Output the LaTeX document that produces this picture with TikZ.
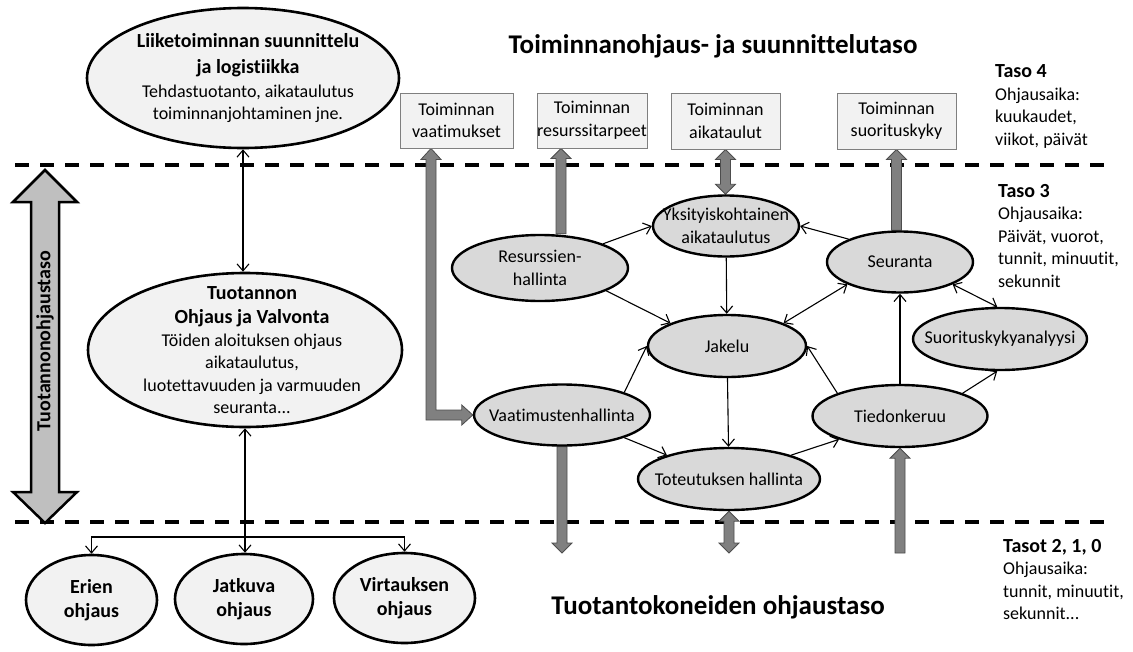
\documentclass[tikz,border=0pt]{standalone}
\usepackage{fontspec}
\setmainfont{Carlito}[Ligatures=NoCommon]
\usetikzlibrary{calc,shapes.geometric,arrows.meta,backgrounds}

\definecolor{palegray}{HTML}{F2F2F2}
\definecolor{netgray}{HTML}{D9D9D9}
\definecolor{arrowgray}{HTML}{808080}
\definecolor{arrowedge}{HTML}{4D4D4D}
\definecolor{bandgray}{HTML}{BFBFBF}
\definecolor{boxedge}{HTML}{7F7F7F}

\newcommand\txtn{\fontsize{18}{22.5}\selectfont}
\newcommand\txtb{\fontsize{20}{24}\selectfont\bfseries}
\newcommand\txtt{\fontsize{27}{32}\selectfont\bfseries}

% thick grey block arrow from #1 to #2, head at #2
\newcommand\barrowone[2]{%
  \path ($(#2)!10pt!(#1)$) coordinate (bh);
  \draw[blockarrow] ($(#1)!5pt!90:(#2)$) -- ($(bh)!5pt!90:(#2)$) -- ($(bh)!10pt!90:(#2)$)
    -- (#2) -- ($(bh)!10pt!-90:(#2)$) -- ($(bh)!5pt!-90:(#2)$) -- ($(#1)!5pt!-90:(#2)$) -- cycle;}
% thick grey block arrow with heads at both ends
\newcommand\barrowtwo[2]{%
  \path ($(#2)!10pt!(#1)$) coordinate (bh) ($(#1)!10pt!(#2)$) coordinate (bt);
  \draw[blockarrow] (#1) -- ($(bt)!10pt!90:(#2)$) -- ($(bt)!5pt!90:(#2)$) -- ($(bh)!5pt!90:(#2)$)
    -- ($(bh)!10pt!90:(#2)$) -- (#2) -- ($(bh)!10pt!-90:(#2)$) -- ($(bh)!5pt!-90:(#2)$)
    -- ($(bt)!5pt!-90:(#2)$) -- ($(bt)!10pt!-90:(#2)$) -- cycle;}

\begin{document}
\begin{tikzpicture}[x=1pt,y=-1pt,
  plan/.style={ellipse,draw,line width=2.6pt,fill=palegray,inner sep=0pt},
  net/.style={ellipse,draw,line width=2.4pt,fill=netgray,inner sep=0pt},
  nettext/.style={font=\txtn,align=center,inner sep=0pt},
  infobox/.style={draw=boxedge,line width=0.9pt,fill=palegray,inner sep=0pt,align=center,font=\txtn},
  link/.style={line width=1.1pt,-{Straight Barb[length=7pt,width=12pt]}},
  bilink/.style={line width=1.1pt,{Straight Barb[length=7pt,width=12pt]}-{Straight Barb[length=7pt,width=12pt]}},
  blockarrow/.style={fill=arrowgray,draw=arrowedge,line width=0.8pt},
  levelline/.style={line width=3.6pt,dash pattern=on 14pt off 11pt},
  side/.style={font=\txtn,align=left,inner sep=0pt,anchor=west}]

\useasboundingbox (0,0) rectangle (1133,651);

% --- planning level (left column) ---
\node[plan,minimum width=312,minimum height=140,
  label={[nettext,xshift=5pt]center:{{\txtb Liiketoiminnan suunnittelu}\\[4pt]{\txtb ja logistiikka}\\[1pt]Tehdastuotanto, aikataulutus\\toiminnanjohtaminen jne.}}]
  (plan1) at (243,78) {};
\node[plan,minimum width=314,minimum height=154,
  label={[nettext,xshift=7pt]center:{{\txtb Tuotannon}\\[2pt]{\txtb Ohjaus ja Valvonta}\\Töiden aloituksen ohjaus\\aikataulutus,\\luotettavuuden ja varmuuden\\seuranta...}}]
  (tov) at (245,350) {};
\node[plan,minimum width=131,minimum height=90,
  label={[nettext]center:{{\txtb Erien}\\[2pt]{\txtb ohjaus}}}] (erien) at (91.5,600) {};
\node[plan,minimum width=138,minimum height=90,
  label={[nettext]center:{{\txtb Jatkuva}\\[2pt]{\txtb ohjaus}}}] (jatk) at (244,599) {};
\node[plan,minimum width=141,minimum height=90,
  label={[nettext]center:{{\txtb Virtauksen}\\[2pt]{\txtb ohjaus}}}] (virt) at (404.5,598) {};

% --- operation level boxes ---
\node[infobox,minimum width=113,minimum height=55] (vaat) at (456.5,120.5) {Toiminnan\\vaatimukset};
\node[infobox,minimum width=110,minimum height=55] (resb) at (592,120.5) {Toiminnan\\resurssitarpeet};
\node[infobox,minimum width=109,minimum height=56] (aikb) at (725.5,121) {Toiminnan\\aikataulut};
\node[infobox,minimum width=119,minimum height=56] (suob) at (896.5,121) {Toiminnan\\suorituskyky};

% --- production control network ---
\node[net,minimum width=146,minimum height=61,label={[nettext]center:{Yksityiskohtainen\\aikataulutus}}] (yks) at (726,226) {};
\node[net,minimum width=176,minimum height=66,label={[nettext]center:{Resurssien-\\hallinta}}] (res) at (540,268) {};
\node[net,minimum width=146,minimum height=61,label={[nettext]center:Seuranta}] (seur) at (900,262) {};
\node[net,minimum width=158,minimum height=62,label={[nettext]center:Jakelu}] (jak) at (727,346) {};
\node[net,minimum width=176,minimum height=61,label={[nettext]center:Vaatimustenhallinta}] (vh) at (562,415) {};
\node[net,minimum width=182,minimum height=62,label={[nettext]center:Toteutuksen hallinta}] (th) at (729,479) {};
\node[net,minimum width=175,minimum height=62,label={[nettext]center:Tiedonkeruu}] (tk) at (900,416) {};
\node[net,minimum width=174,minimum height=62,label={[nettext]center:Suorituskykyanalyysi}] (suor) at (1000,339) {};

% --- headings and level descriptions ---
\node[font=\txtt] (title) at (713,46) {Toiminnanohjaus- ja suunnittelutaso};
\node[font=\txtt] (subtitle) at (718,607) {Tuotantokoneiden ohjaustaso};
\node[side] (taso4) at (995,106.5) {{\txtb Taso 4}\\Ohjausaika:\\kuukaudet,\\viikot, päivät};
\node[side] (taso3) at (998,236) {{\txtb Taso 3}\\Ohjausaika:\\Päivät, vuorot,\\tunnit, minuutit,\\sekunnit};
\node[side] (taso210) at (1003,579.5) {{\txtb Tasot 2, 1, 0}\\Ohjausaika:\\tunnit, minuutit,\\sekunnit...};

% --- vertical band on the left ---
\draw[fill=bandgray,line width=2.5pt,line join=miter]
  (45,170) -- (77,202) -- (59,202) -- (59,492) -- (77,492) -- (45,523)
  -- (13,492) -- (31,492) -- (31,202) -- (13,202) -- cycle;
\node[font=\txtb,rotate=90] (bandlabel) at (45,341) {Tuotannonohjaustaso};

% --- thin connectors, left column ---
\coordinate (jct) at (tov.south |- 0,537);
\draw[bilink] (plan1.south) -- (plan1.south |- tov.north);
\draw[bilink] (tov.south) -- (tov.south |- jatk.north);
\draw[link] (jct) -| (erien.north);
\draw[link] (jct) -| (virt.north);

% --- thin connectors, network ---
\draw[link] (res.21) -- (yks.west);
\draw[link] (seur.156) -- (yks.east);
\draw[link] (yks) -- (jak);
\draw[link] (res.-19) -- (jak.158);
\draw[bilink] (seur.203) -- (jak.22);
\draw[bilink] (seur.-23) -- (suor.95);
\draw[link] (tk) -- (seur);
\draw[link] (tk.160) -- (jak.east);
\draw[link] (tk.20) -- (suor.265);
\draw[link] (vh.20) -- (jak.west);
\draw[link] (vh.-20) -- (th.159);
\draw[link] (jak) -- (th);
\draw[link] (th.21) -- (tk.201);

% --- end points of the block arrows ---
\coordinate (lowend) at (0,553);
\coordinate (a1x) at (431,0);
\coordinate (a1a) at (vaat.south -| a1x);
\coordinate (a2x) at (561,0);
\coordinate (a2a) at (res.north -| a2x);
\coordinate (a2b) at (resb.south -| a2x);
\coordinate (a3a) at (aikb.south);
\coordinate (a3b) at (yks.north -| aikb.south);
\coordinate (a4a) at (seur.north -| suob.south);
\coordinate (a4b) at (suob.south);
\coordinate (a5a) at (vh.south);
\coordinate (a5b) at (vh.south |- lowend);
\coordinate (a6a) at (th.south);
\coordinate (a6b) at (th.south |- lowend);
\coordinate (a7a) at (tk.south |- lowend);
\coordinate (a7b) at (tk.south);

\begin{pgfonlayer}{background}
  \fill[white] (0,0) rectangle (1133,651);
  % level separators
  \draw[levelline] (15,165) -- (1105,165);
  \draw[levelline] (15,522) -- (1105,522);
  % requirements feed: up to the box and round into Vaatimustenhallinta
  \draw[blockarrow] let \p1=(a1a), \p2=(vh.west) in
    (\p1) -- ++(10,11) -- ++(-5,0) -- (\x1+5pt,\y2+5pt) -- (\x2-11pt,\y2+5pt)
    -- ++(0,-5) -- (\p2) -- (\x2-11pt,\y2-10pt) -- ++(0,-5) -- (\x1-5pt,\y2-5pt)
    -- (\x1-5pt,\y1-11pt) -- ++(-5,0) -- cycle;
  \barrowone{a2a}{a2b}
  \barrowtwo{a3a}{a3b}
  \barrowone{a4a}{a4b}
  \barrowone{a5a}{a5b}
  \barrowtwo{a6a}{a6b}
  \barrowone{a7a}{a7b}
\end{pgfonlayer}
\end{tikzpicture}
\end{document}
